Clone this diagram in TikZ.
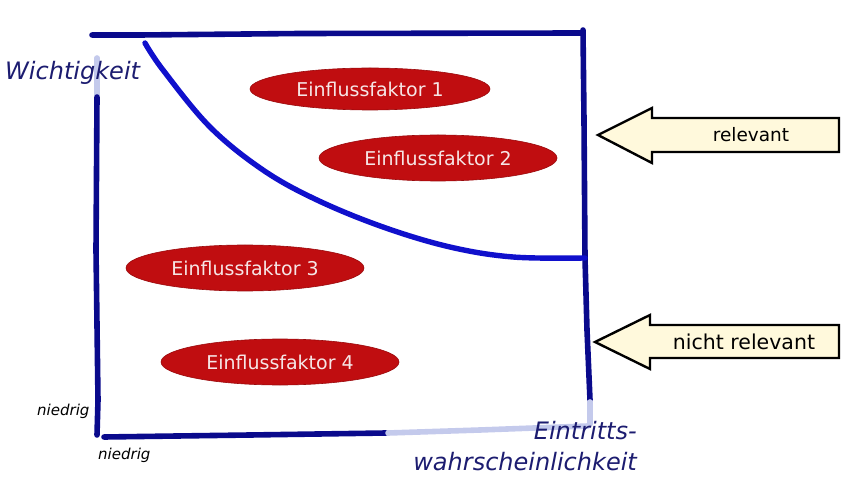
\documentclass[tikz,border=0pt]{standalone}
\usepackage{fontspec}
\setmainfont{DejaVu Sans}
\usetikzlibrary{shapes.geometric}
\definecolor{navyline}{HTML}{0A0A8C}
\definecolor{curveblue}{HTML}{1010CC}
\definecolor{faintblue}{HTML}{C4CAEC}
\definecolor{labelnavy}{HTML}{1C1C70}
\definecolor{factorred}{HTML}{C00D10}
\definecolor{factortext}{HTML}{F6E6E6}
\definecolor{cream}{HTML}{FFF9DC}
\tikzset{
  frameline/.style={draw=navyline, line width=5.6pt, line cap=round, line join=round},
  faintline/.style={draw=faintblue, line width=5.6pt, line cap=round},
  curveline/.style={draw=curveblue, line width=5.4pt, line cap=round, line join=round},
  factor/.style={ellipse, fill=factorred, draw=factorred!80!black, line width=0.6pt, text=factortext, font=\fontsize{19}{22}\selectfont, inner sep=0pt},
  axislabel/.style={text=labelnavy, font=\fontsize{24}{27}\itshape\selectfont, inner sep=0pt},
  lowlabel/.style={text=black, font=\fontsize{15}{18}\itshape\selectfont, inner sep=0pt},
  arrowbox/.style={fill=cream, draw=black, line width=2.4pt, line join=miter},
  arrowtext/.style={text=black, font=\fontsize{18.5}{21}\selectfont, inner sep=0pt}
}
\begin{document}
\begin{tikzpicture}[x=1pt,y=-1pt]
\useasboundingbox (0,0) rectangle (843,494);
% frame
\draw[frameline] (92,35) -- (140,35) -- (300,33.5) -- (583,33);
\draw[frameline] (583,30) -- (584,120) -- (585,258);
\draw[frameline] (585,258) -- (587,330) -- (590,400);
\draw[faintline] (590,402) -- (590,424);
\draw[faintline] (97,58) -- (97,95);
\draw[frameline] (97,97) -- (96,250) -- (98,400) -- (97,435);
\draw[frameline] (104,437) -- (250,435) -- (386,433);
\draw[faintline] (388,433) -- (480,430) -- (588,426);
% curve
\draw[curveline] plot[smooth, tension=0.6] coordinates {(145,43) (163,70) (210,127) (263,170) (317,200) (383,227) (450,247) (513,257) (585,258)};
% factors
\node[factor, minimum width=240pt, minimum height=42pt] (f1) at (370,89) {Einflussfaktor 1};
\node[factor, minimum width=238pt, minimum height=46pt] (f2) at (438,158) {Einflussfaktor 2};
\node[factor, minimum width=238pt, minimum height=46pt] (f3) at (245,268) {Einflussfaktor 3};
\node[factor, minimum width=238pt, minimum height=46pt] (f4) at (280,362) {Einflussfaktor 4};
% axis labels
\node[axislabel, anchor=west] (wicht) at (5,73) {Wichtigkeit};
\node[lowlabel, anchor=west] (lowy) at (37,411) {niedrig};
\node[lowlabel, anchor=west] (lowx) at (98,455) {niedrig};
\node[axislabel, anchor=east] (eint) at (637,431) {Eintritts-};
\node[axislabel, anchor=east] (wahr) at (637,462) {wahrscheinlichkeit};
% arrows
\draw[arrowbox] (598,135) -- (652,108) -- (652,118) -- (839,118) -- (839,152) -- (652,152) -- (652,163) -- cycle;
\node[arrowtext] (rel) at (751,135) {relevant};
\draw[arrowbox] (595,342) -- (650,315) -- (650,325) -- (839,325) -- (839,358) -- (650,358) -- (650,369) -- cycle;
\node[arrowtext, font=\fontsize{20.5}{23}\selectfont] (nrel) at (744,342) {nicht relevant};
\end{tikzpicture}
\end{document}
